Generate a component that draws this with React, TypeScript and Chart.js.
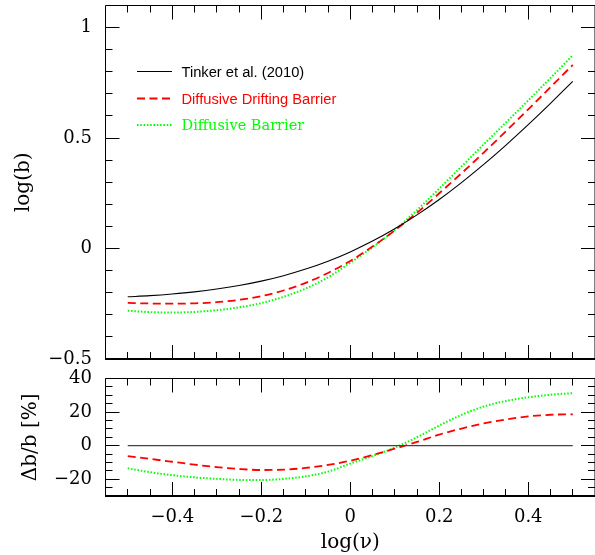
import React, { useEffect, useRef } from 'react';
import { Chart, registerables } from 'chart.js';

Chart.register(...registerables);

// ---------- data ----------
const LOG_NU = [-0.5, -0.45, -0.4, -0.35, -0.3, -0.25, -0.2, -0.15, -0.1, -0.05, 0, 0.05, 0.1, 0.15, 0.2, 0.25, 0.3, 0.35, 0.4, 0.45, 0.5];

const LOGB_TINKER = [-0.2185, -0.2131, -0.2056, -0.196, -0.1834, -0.1674, -0.1475, -0.1229, -0.0931, -0.0574, -0.0152, 0.0337, 0.0896, 0.1525, 0.2222, 0.2984, 0.3806, 0.4681, 0.5604, 0.6568, 0.7567];
const LOGB_DDB = [-0.2463, -0.2488, -0.2494, -0.2481, -0.2429, -0.2324, -0.2155, -0.1899, -0.1551, -0.1105, -0.0562, 0.0087, 0.0817, 0.162, 0.25, 0.3406, 0.4344, 0.5311, 0.6301, 0.7302, 0.8312];
const LOGB_DB = [-0.2815, -0.2878, -0.2897, -0.287, -0.2792, -0.2665, -0.2471, -0.2187, -0.1809, -0.1305, -0.0644, 0.0059, 0.0844, 0.1737, 0.2714, 0.3714, 0.4716, 0.5705, 0.6703, 0.7717, 0.875];

const DIFF_TINKER = [0, 0, 0, 0, 0, 0, 0, 0, 0, 0, 0, 0, 0, 0, 0, 0, 0, 0, 0, 0, 0];
const DIFF_DDB = [-6.2, -7.9, -9.6, -11.3, -12.8, -13.9, -14.5, -14.3, -13.3, -11.5, -9.0, -5.6, -1.8, 2.2, 6.6, 10.2, 13.2, 15.6, 17.4, 18.4, 18.7];
const DIFF_DB = [-13.5, -15.8, -17.6, -18.9, -19.8, -20.4, -20.5, -19.8, -18.3, -15.5, -10.7, -6.2, -1.2, 5.0, 12.0, 18.3, 23.3, 26.6, 28.8, 30.3, 31.3];

const SERIES_LABELS = ['Tinker et al. (2010)', 'Diffusive Drifting Barrier', 'Diffusive Barrier'];

const X_TICKS = [-0.4, -0.2, 0, 0.2, 0.4];
const X_TICK_LABELS = ['\u22120.4', '\u22120.2', '0', '0.2', '0.4'];
const X_MINOR_TICKS = [-0.5, -0.45, -0.4, -0.35, -0.3, -0.25, -0.2, -0.15, -0.1, -0.05, 0, 0.05, 0.1, 0.15, 0.2, 0.25, 0.3, 0.35, 0.4, 0.45, 0.5];

const TOP_Y_TICKS = [-0.5, 0, 0.5, 1];
const TOP_Y_TICK_LABELS = ['\u22120.5', '0', '0.5', '1'];
const TOP_Y_MINOR_TICKS = [-0.4, -0.3, -0.2, -0.1, 0, 0.1, 0.2, 0.3, 0.4, 0.5, 0.6, 0.7, 0.8, 0.9, 1.0];

const BOT_Y_TICKS = [-20, 0, 20, 40];
const BOT_Y_TICK_LABELS = ['\u221220', '0', '20', '40'];
const BOT_Y_MINOR_TICKS = [-25, -20, -15, -10, -5, 0, 5, 10, 15, 20, 25, 30, 35];

// ---------- styling ----------
const SERIF = '"DejaVu Serif", serif';
const STYLES = [
  { borderColor: '#000000', borderWidth: 1.1, borderDash: [] as number[] },
  { borderColor: '#ff0000', borderWidth: 1.8, borderDash: [8, 4.5] },
  { borderColor: '#00ff00', borderWidth: 2, borderDash: [1.5, 1.8] },
];

const pts = (ys: number[]) => LOG_NU.map((x, i) => ({ x, y: ys[i] }));

const frameTicksPlugin = {
  id: 'frameTicks',
  afterDatasetsDraw(chart: any, _args: any, opts: any) {
    const { ctx, chartArea: a } = chart;
    const xs = chart.scales.x;
    const ys = chart.scales.y;
    const snap = (p: number) => Math.round(p - 0.5) + 0.5;
    ctx.save();
    ctx.strokeStyle = '#000';
    ctx.setLineDash([]);
    ctx.lineWidth = 1;
    ctx.beginPath();
    const xTick = (v: number, len: number) => {
      const p = snap(xs.getPixelForValue(v));
      ctx.moveTo(p, a.top);
      ctx.lineTo(p, a.top + len);
      ctx.moveTo(p, a.bottom);
      ctx.lineTo(p, a.bottom - len);
    };
    const yTick = (v: number, len: number) => {
      const p = snap(ys.getPixelForValue(v));
      ctx.moveTo(a.left, p);
      ctx.lineTo(a.left + len, p);
      ctx.moveTo(a.right, p);
      ctx.lineTo(a.right - len, p);
    };
    opts.xMinor.forEach((v: number) => xTick(v, 7));
    opts.xMajor.forEach((v: number) => xTick(v, 14));
    opts.yMinor.forEach((v: number) => yTick(v, 7));
    opts.yMajor.forEach((v: number) => yTick(v, 14));
    ctx.stroke();
    ctx.beginPath();
    ctx.moveTo(a.left, a.bottom);
    ctx.lineTo(a.left, a.top);
    ctx.lineTo(a.right, a.top);
    ctx.lineTo(a.right, a.bottom);
    ctx.stroke();
    ctx.lineWidth = 2;
    ctx.beginPath();
    ctx.moveTo(a.left - 0.5, a.bottom);
    ctx.lineTo(a.right, a.bottom);
    ctx.stroke();
    ctx.restore();
  },
};

const insideLegendPlugin = {
  id: 'insideLegend',
  afterDatasetsDraw(chart: any) {
    const ctx = chart.ctx;
    const rows = [
      { y: 71.5, font: '14.7px "Liberation Sans", sans-serif' },
      { y: 98.5, font: '14.7px "Liberation Sans", sans-serif' },
      { y: 125, font: '14.5px "DejaVu Serif", serif' },
    ];
    chart.data.datasets.forEach((ds: any, i: number) => {
      const r = rows[i];
      ctx.save();
      ctx.strokeStyle = ds.borderColor;
      ctx.lineWidth = ds.borderWidth;
      ctx.setLineDash(ds.borderDash || []);
      ctx.beginPath();
      ctx.moveTo(137, r.y);
      ctx.lineTo(172, r.y);
      ctx.stroke();
      ctx.setLineDash([]);
      ctx.font = r.font;
      ctx.fillStyle = ds.borderColor;
      ctx.textBaseline = 'alphabetic';
      ctx.textAlign = 'left';
      ctx.fillText(ds.label, 181.5, r.y + 5.3);
      ctx.restore();
    });
  },
};

const zeroPad = (s: any) => {
  s.paddingTop = 0;
  s.paddingBottom = 0;
  s.paddingLeft = 0;
  s.paddingRight = 0;
};

function makeDatasets(series: number[][], zeroColor?: string) {
  return series.map((ys, i) => ({
    label: SERIES_LABELS[i],
    data: pts(ys),
    borderColor: i === 0 && zeroColor ? zeroColor : STYLES[i].borderColor,
    borderWidth: STYLES[i].borderWidth,
    borderDash: STYLES[i].borderDash,
    pointRadius: 0,
    fill: false,
    cubicInterpolationMode: 'monotone' as const,
  }));
}

function topConfig(): any {
  return {
    type: 'line',
    data: { datasets: makeDatasets([LOGB_TINKER, LOGB_DDB, LOGB_DB]) },
    plugins: [frameTicksPlugin, insideLegendPlugin],
    options: {
      responsive: false,
      animation: false,
      devicePixelRatio: 1,
      layout: { padding: { top: 5.5, right: 0, bottom: 0, left: 0 } },
      plugins: {
        legend: { display: false },
        tooltip: { enabled: false },
        frameTicks: { xMajor: X_TICKS, xMinor: X_MINOR_TICKS, yMajor: TOP_Y_TICKS, yMinor: TOP_Y_MINOR_TICKS },
      },
      scales: {
        x: {
          type: 'linear',
          min: -0.55,
          max: 0.55,
          ticks: { display: false },
          grid: { display: false, drawTicks: false },
          border: { display: false },
          afterFit: (s: any) => { s.height = 6; zeroPad(s); },
        },
        y: {
          type: 'linear',
          min: -0.5,
          max: 1.1,
          afterBuildTicks: (s: any) => { s.ticks = TOP_Y_TICKS.map((v) => ({ value: v })); },
          ticks: {
            autoSkip: false,
            callback: (_v: any, i: number) => TOP_Y_TICK_LABELS[i],
            padding: 13.5,
            color: '#000',
            font: { family: SERIF, size: 18 },
          },
          grid: { display: false, drawTicks: false },
          border: { display: false },
          title: {
            display: true,
            text: 'log(b)',
            color: '#000',
            font: { family: SERIF, size: 20, lineHeight: 1.2 },
            padding: { top: 12, bottom: 0 },
          },
          afterFit: (s: any) => { s.width = 105.5; zeroPad(s); },
        },
      },
    },
  };
}

function bottomConfig(): any {
  return {
    type: 'line',
    data: { datasets: makeDatasets([DIFF_TINKER, DIFF_DDB, DIFF_DB], '#444444') },
    plugins: [frameTicksPlugin],
    options: {
      responsive: false,
      animation: false,
      devicePixelRatio: 1,
      layout: { padding: { top: 13.5, right: 0, bottom: 0, left: 0 } },
      plugins: {
        legend: { display: false },
        tooltip: { enabled: false },
        frameTicks: { xMajor: X_TICKS, xMinor: X_MINOR_TICKS, yMajor: BOT_Y_TICKS, yMinor: BOT_Y_MINOR_TICKS },
      },
      scales: {
        x: {
          type: 'linear',
          min: -0.55,
          max: 0.55,
          afterBuildTicks: (s: any) => { s.ticks = X_TICKS.map((v) => ({ value: v })); },
          ticks: {
            autoSkip: false,
            maxRotation: 0,
            callback: (_v: any, i: number) => X_TICK_LABELS[i],
            padding: 10.7,
            color: '#000',
            font: { family: SERIF, size: 18, lineHeight: 1.2 },
          },
          grid: { display: false, drawTicks: false },
          border: { display: false },
          title: {
            display: true,
            text: 'log(\u03bd)',
            color: '#000',
            font: { family: SERIF, size: 20, lineHeight: 1.2 },
            padding: { top: 0, bottom: 0 },
          },
          afterFit: (s: any) => { s.height = 59; zeroPad(s); },
        },
        y: {
          type: 'linear',
          min: -30,
          max: 40,
          afterBuildTicks: (s: any) => { s.ticks = BOT_Y_TICKS.map((v) => ({ value: v })); },
          ticks: {
            autoSkip: false,
            callback: (_v: any, i: number) => BOT_Y_TICK_LABELS[i],
            padding: 13.5,
            color: '#000',
            font: { family: SERIF, size: 18 },
          },
          grid: { display: false, drawTicks: false },
          border: { display: false },
          title: {
            display: true,
            text: '\u0394b/b [%]',
            color: '#000',
            font: { family: SERIF, size: 20, lineHeight: 1.2 },
            padding: { top: 18.5, bottom: 0 },
          },
          afterFit: (s: any) => { s.width = 105.5; zeroPad(s); },
        },
      },
    },
  };
}

export default function App() {
  const topRef = useRef<HTMLCanvasElement>(null);
  const botRef = useRef<HTMLCanvasElement>(null);

  useEffect(() => {
    const top = new Chart(topRef.current as HTMLCanvasElement, topConfig());
    const bot = new Chart(botRef.current as HTMLCanvasElement, bottomConfig());
    return () => {
      top.destroy();
      bot.destroy();
    };
  }, []);

  return (
    <div style={{ position: 'absolute', left: 0, top: 0, width: 595, height: 555, background: '#fff' }}>
      <canvas ref={topRef} width={595} height={365} style={{ position: 'absolute', left: 0, top: 0 }} />
      <canvas ref={botRef} width={595} height={190} style={{ position: 'absolute', left: 0, top: 365 }} />
    </div>
  );
}
